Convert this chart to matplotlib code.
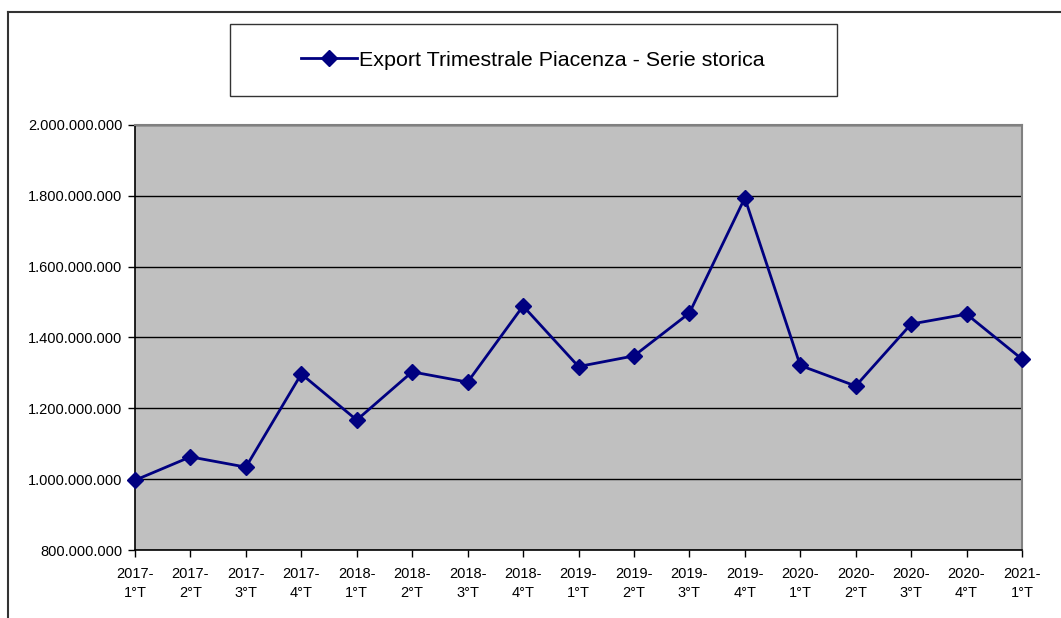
"""Export trimestrale Piacenza - serie storica (line chart, Excel style)."""

import matplotlib
matplotlib.use("Agg")
import matplotlib.pyplot as plt
from matplotlib.lines import Line2D
from matplotlib.patches import Rectangle
from matplotlib.ticker import FuncFormatter, MultipleLocator

plt.rcParams["font.family"] = ["Liberation Sans", "DejaVu Sans"]

QUARTERS = [
    "2017-\n1°T", "2017-\n2°T", "2017-\n3°T", "2017-\n4°T",
    "2018-\n1°T", "2018-\n2°T", "2018-\n3°T", "2018-\n4°T",
    "2019-\n1°T", "2019-\n2°T", "2019-\n3°T", "2019-\n4°T",
    "2020-\n1°T", "2020-\n2°T", "2020-\n3°T", "2020-\n4°T",
    "2021-\n1°T",
]
EXPORT = [
    997e6, 1063e6, 1034e6, 1297e6,
    1167e6, 1303e6, 1274e6, 1489e6,
    1318e6, 1348e6, 1469e6, 1794e6,
    1321e6, 1263e6, 1438e6, 1466e6,
    1339e6,
]
SERIES_NAME = "Export Trimestrale Piacenza - Serie storica"

W, H = 1061, 618
fig = plt.figure(figsize=(W / 100, H / 100), dpi=100)

# plot area in pixel coords: x 135..1022, y 125..550
ax = fig.add_axes([135 / W, 1 - 550 / H, (1022 - 135) / W, (550 - 125) / H])
ax.set_facecolor("#c0c0c0")

x = list(range(len(QUARTERS)))
ax.plot(x, EXPORT, color="#000080", lw=2, marker="D", ms=8.5,
        mfc="#000080", mec="#000080", zorder=3, clip_on=False)

ax.set_xlim(0, len(QUARTERS) - 1)
ax.set_ylim(800e6, 2000e6)
ax.yaxis.set_major_locator(MultipleLocator(200e6))
ax.yaxis.set_major_formatter(FuncFormatter(lambda v, _: f"{v:,.0f}".replace(",", ".")))
ax.set_xticks(x)
ax.set_xticklabels(QUARTERS, linespacing=1.5)
ax.tick_params(axis="both", direction="out", length=5, width=1, color="black",
               labelsize=10.5, pad=4)
ax.tick_params(axis="x", pad=7)
ax.grid(axis="y", color="black", lw=1)
ax.set_axisbelow(True)

for side in ("left", "bottom"):
    ax.spines[side].set_color("black")
    ax.spines[side].set_linewidth(1.2)
for side in ("top", "right"):
    ax.spines[side].set_color("#808080")
    ax.spines[side].set_linewidth(1.5)

# outer chart frame (top and left edge only visible)
fig.add_artist(Line2D([8 / W, 1], [1 - 12 / H, 1 - 12 / H], color="#333333", lw=1.5))
fig.add_artist(Line2D([8 / W, 8 / W], [0, 1 - 12 / H], color="#333333", lw=1.5))

# legend box
fig.add_artist(Rectangle((230 / W, 1 - 96 / H), (837 - 230) / W, (96 - 24) / H,
                         facecolor="white", edgecolor="#333333", lw=1))
handle = Line2D([], [], color="#000080", lw=2, marker="D", ms=8.5,
                mfc="#000080", mec="#000080")
fig.legend([handle], [SERIES_NAME], loc="center", bbox_to_anchor=(533 / W, 1 - 60 / H),
           frameon=False, fontsize=15.4, handlelength=2.6, handletextpad=0.1)

fig.savefig("out.png", dpi=100)
